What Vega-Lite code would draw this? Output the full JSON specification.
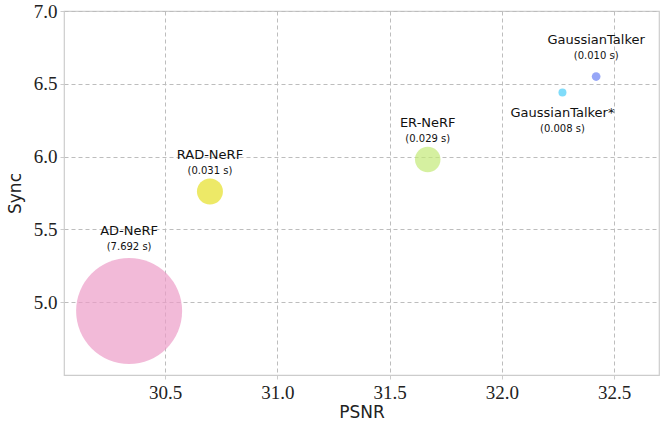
{
  "$schema": "https://vega.github.io/schema/vega-lite/v6.json",
  "width": 595,
  "height": 364,
  "autosize": "none",
  "padding": {"left": 64, "top": 11, "right": 1, "bottom": 46},
  "config": {
    "view": {"stroke": "#cccccc", "strokeWidth": 1.2},
    "axis": {
      "grid": true,
      "gridColor": "#bdbdbd",
      "gridDash": [4, 3],
      "gridWidth": 1,
      "domain": false,
      "tickColor": "#cccccc",
      "tickSize": 4,
      "labelFont": "Liberation Serif",
      "labelFontSize": 19,
      "labelColor": "#222222",
      "titleFont": "DejaVu Sans",
      "titleFontSize": 17,
      "titleFontWeight": "normal",
      "titleColor": "#222222"
    }
  },
  "data": {
    "values": [
      {"method": "AD-NeRF", "psnr": 30.34, "sync": 4.94, "time": 7.692, "timeLabel": "(7.692 s)"},
      {"method": "RAD-NeRF", "psnr": 30.70, "sync": 5.76, "time": 0.031, "timeLabel": "(0.031 s)"},
      {"method": "ER-NeRF", "psnr": 31.67, "sync": 5.98, "time": 0.029, "timeLabel": "(0.029 s)"},
      {"method": "GaussianTalker", "psnr": 32.42, "sync": 6.55, "time": 0.010, "timeLabel": "(0.010 s)"},
      {"method": "GaussianTalker*", "psnr": 32.27, "sync": 6.44, "time": 0.008, "timeLabel": "(0.008 s)"}
    ]
  },
  "encoding": {
    "x": {"field": "psnr", "type": "quantitative", "title": "PSNR",
      "scale": {"domain": [30.05, 32.7], "nice": false, "zero": false},
      "axis": {"values": [30.5, 31.0, 31.5, 32.0, 32.5], "format": ".1f", "labelPadding": 4, "titlePadding": 2}},
    "y": {"field": "sync", "type": "quantitative", "title": "Sync",
      "scale": {"domain": [4.5, 7.0], "nice": false, "zero": false},
      "axis": {"values": [5.0, 5.5, 6.0, 6.5, 7.0], "format": ".1f", "labelPadding": 3, "titlePadding": 9}}
  },
  "layer": [
    {
      "mark": {"type": "circle", "opacity": 0.7},
      "encoding": {
        "size": {"field": "time", "type": "quantitative", "legend": null,
          "scale": {"type": "linear", "domain": [0.008, 0.010, 0.029, 0.031, 7.692], "range": [64, 76, 650, 676, 11236]}},
        "color": {"field": "method", "type": "nominal", "legend": null,
          "scale": {"domain": ["AD-NeRF", "RAD-NeRF", "ER-NeRF", "GaussianTalker", "GaussianTalker*"],
            "range": ["#ec9cc8", "#e5e027", "#c3ea77", "#6a80f3", "#4acdf8"]}}
      }
    },
    {
      "transform": [{"filter": "datum.method === 'RAD-NeRF' || datum.method === 'ER-NeRF' || datum.method === 'GaussianTalker'"}],
      "mark": {"type": "text", "font": "DejaVu Sans", "fontSize": 13, "dy": -37, "baseline": "middle", "color": "#111111"},
      "encoding": {"text": {"field": "method"}}
    },
    {
      "transform": [{"filter": "datum.method === 'RAD-NeRF' || datum.method === 'ER-NeRF' || datum.method === 'GaussianTalker'"}],
      "mark": {"type": "text", "font": "DejaVu Sans", "fontSize": 10, "dy": -21, "baseline": "middle", "color": "#111111"},
      "encoding": {"text": {"field": "timeLabel"}}
    },
    {
      "transform": [{"filter": "datum.method === 'AD-NeRF'"}],
      "mark": {"type": "text", "font": "DejaVu Sans", "fontSize": 13, "dy": -80, "baseline": "middle", "color": "#111111"},
      "encoding": {"text": {"field": "method"}}
    },
    {
      "transform": [{"filter": "datum.method === 'AD-NeRF'"}],
      "mark": {"type": "text", "font": "DejaVu Sans", "fontSize": 10, "dy": -64, "baseline": "middle", "color": "#111111"},
      "encoding": {"text": {"field": "timeLabel"}}
    },
    {
      "transform": [{"filter": "datum.method === 'GaussianTalker*'"}],
      "mark": {"type": "text", "font": "DejaVu Sans", "fontSize": 13, "dy": 20, "baseline": "middle", "color": "#111111"},
      "encoding": {"text": {"field": "method"}}
    },
    {
      "transform": [{"filter": "datum.method === 'GaussianTalker*'"}],
      "mark": {"type": "text", "font": "DejaVu Sans", "fontSize": 10, "dy": 36, "baseline": "middle", "color": "#111111"},
      "encoding": {"text": {"field": "timeLabel"}}
    }
  ]
}
